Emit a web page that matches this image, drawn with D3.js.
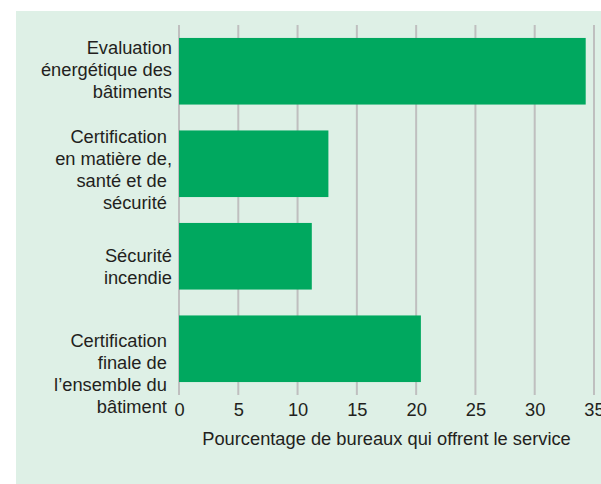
<!DOCTYPE html>
<html>
<head>
<meta charset="utf-8">
<script src="https://cdn.jsdelivr.net/npm/d3@7"></script>
<style>
  body { margin: 0; background: #fff; }
  svg { display: block; }
  text { font-family: "Liberation Sans", Arial, sans-serif; fill: #231f20; }
</style>
</head>
<body>
<svg id="chart"></svg>
<script>
// categories, each split into its printed lines
var categories = [
  ["Evaluation", "énergétique des", "bâtiments"],
  ["Certification\u00a0", "en matière de,", "santé et de\u00a0", "sécurité\u00a0"],
  ["Sécurité", "incendie"],
  ["Certification\u00a0", "finale de\u00a0", "l\u2019ensemble du\u00a0", "bâtiment\u00a0"]
];
var values = [34.3, 12.6, 11.2, 20.4];
var xTicks = [0, 5, 10, 15, 20, 25, 30, 35];
var xTitle = "Pourcentage de bureaux qui offrent le service";

var svgWidth = 601, svgHeight = 484;
var margin = {top: 25, right: 7, bottom: 89, left: 179};
var fontSize = 18.3, lineHeight = 22;
var labelShift = [-2, 6, 10, 25];

var svg = d3.select("#chart")
  .attr("width", svgWidth)
  .attr("height", svgHeight);

svg.append("rect")
  .attr("x", 16).attr("y", 11)
  .attr("width", svgWidth - 16).attr("height", svgHeight - 11)
  .attr("fill", "#def0e6");

var x = d3.scaleLinear()
  .domain([0, 35])
  .range([margin.left, svgWidth - margin.right]);

var y = d3.scaleBand()
  .domain(d3.range(categories.length))
  .range([margin.top, svgHeight - margin.bottom])
  .paddingInner(0.28)
  .paddingOuter(0.14);

// gridlines
svg.append("g")
  .selectAll("line")
  .data(xTicks)
  .enter().append("line")
    .attr("x1", function(d) { return x(d); })
    .attr("x2", function(d) { return x(d); })
    .attr("y1", y.range()[0])
    .attr("y2", y.range()[1])
    .attr("stroke", "#bfbfbf")
    .attr("stroke-width", 2);

// bars
svg.append("g")
  .selectAll("rect")
  .data(values)
  .enter().append("rect")
    .attr("x", x(0))
    .attr("y", function(d, i) { return y(i); })
    .attr("width", function(d) { return x(d) - x(0); })
    .attr("height", y.bandwidth())
    .attr("fill", "#00a85f");

// x axis
var xAxis = svg.append("g")
  .attr("transform", "translate(0," + y.range()[1] + ")")
  .call(d3.axisBottom(x).tickValues(xTicks).tickSize(0).tickPadding(8));
xAxis.select(".domain").remove();
xAxis.selectAll("text")
  .attr("font-size", fontSize)
  .attr("font-family", null)
  .attr("fill", null);

svg.append("text")
  .attr("x", (x.range()[0] + x.range()[1]) / 2)
  .attr("y", 445)
  .attr("text-anchor", "middle")
  .attr("font-size", fontSize)
  .text(xTitle);

// category labels
var labels = svg.append("g")
  .selectAll("text")
  .data(categories)
  .enter().append("text")
    .attr("text-anchor", "end")
    .attr("font-size", fontSize)
    .attr("xml:space", "preserve")
    .attr("transform", function(d, i) {
      var cy = y(i) + y.bandwidth() / 2 + labelShift[i] - (d.length - 1) * lineHeight / 2;
      return "translate(" + (x(0) - 7) + "," + cy + ")";
    });

labels.selectAll("tspan")
  .data(function(d) { return d; })
  .enter().append("tspan")
    .attr("x", 0)
    .attr("y", function(d, i) { return i * lineHeight; })
    .attr("dy", "0.35em")
    .text(function(d) { return d; });
</script>
</body>
</html>
